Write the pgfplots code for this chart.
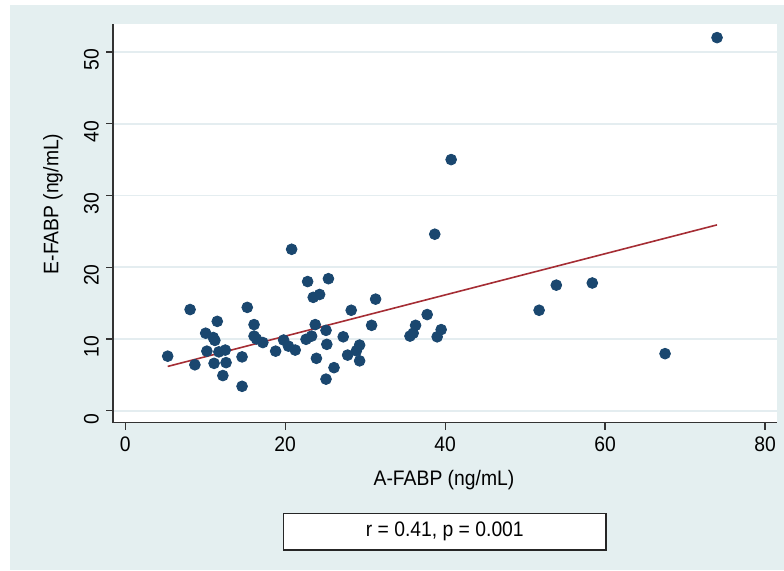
\documentclass[border=0pt]{standalone}
\usepackage{fontspec}
\setmainfont{Liberation Sans}[FakeStretch=0.92]
\usepackage{pgfplots}
\pgfplotsset{compat=1.18}

\definecolor{bgblue}{RGB}{228,239,240}
\definecolor{gridblue}{RGB}{228,237,240}
\definecolor{dotnavy}{RGB}{26,71,111}
\definecolor{fitred}{RGB}{165,45,52}

\begin{document}
\begin{tikzpicture}
  % page and graph region (784x571 px at 0.5pt per px)
  \fill[white] (0,0) rectangle (392pt,285.5pt);
  \fill[bgblue] (5pt,0.5pt) rectangle (392pt,283pt);

  \begin{axis}[
    at={(56.5pt,74.15pt)}, anchor=south west,
    scale only axis,
    width=332pt, height=199.35pt,
    xmin=-1.54, xmax=81.5,
    ymin=-1.67, ymax=53.9,
    axis x line*=bottom, axis y line*=left,
    axis line style={black!80, line width=0.6pt},
    axis background/.style={fill=white},
    xtick={0,20,40,60,80},
    ytick={0,10,20,30,40,50},
    tick align=outside,
    major tick length=3.5pt,
    tick style={black!80, line width=0.6pt},
    ymajorgrids,
    grid style={gridblue, line width=0.8pt},
    /pgf/number format/assume math mode=true,
    tick label style={font=\fontsize{10.5}{12}\selectfont},
    yticklabel style={rotate=90, anchor=south, xshift=-4pt},
    clip=false,
  ]
    % fitted line
    \addplot[fitred, line width=0.8pt, no marks] coordinates {
      (5.3,6.17) (74.0,25.9)
    };
    % observations
    \addplot[only marks, mark=*, mark size=2.7pt,
             mark options={fill=dotnavy, draw=dotnavy}] coordinates {
      (5.3,7.6) (8.1,14.1) (8.7,6.4) (10.05,10.8) (11.0,10.2)
      (11.2,9.8) (11.5,12.45) (10.2,8.3) (11.7,8.2) (12.5,8.45)
      (11.1,6.6) (12.6,6.7) (12.2,4.9) (14.6,7.5) (14.6,3.4)
      (15.25,14.4) (16.1,12.0) (16.1,10.4) (16.4,10.0) (17.2,9.5)
      (18.8,8.3) (19.8,9.85) (20.4,9.0) (21.25,8.45) (20.8,22.5)
      (22.8,18.0) (25.4,18.4) (23.5,15.8) (24.3,16.2) (23.75,12.0)
      (22.6,9.95) (23.3,10.4) (25.1,11.2) (25.2,9.25) (23.9,7.3)
      (26.1,6.0) (25.1,4.4) (28.25,14.0) (27.25,10.3) (27.8,7.75)
      (28.9,8.35) (29.3,9.15) (29.3,6.95) (30.8,11.9) (31.3,15.55)
      (35.6,10.4) (36.0,10.8) (36.3,11.9) (37.75,13.4) (39.0,10.3)
      (39.5,11.3) (38.7,24.6) (40.75,35.0) (51.75,14.0) (53.9,17.5)
      (58.4,17.8) (67.5,7.95) (74.0,52.0)
    };
  \end{axis}

  % axis titles
  \node[font=\fontsize{10.5}{12}\selectfont] at (222pt,45.5pt) {A-FABP (ng/mL)};
  \node[font=\fontsize{10.5}{12}\selectfont, rotate=90] at (26.5pt,183.5pt) {E-FABP (ng/mL)};

  % note box
  \draw[black!85, line width=0.6pt, fill=white] (141.75pt,10.5pt) rectangle (303pt,28.85pt);
  \node[font=\fontsize{10.5}{12}\selectfont] at (222.4pt,19.7pt) {r = 0.41, p = 0.001};
\end{tikzpicture}
\end{document}
